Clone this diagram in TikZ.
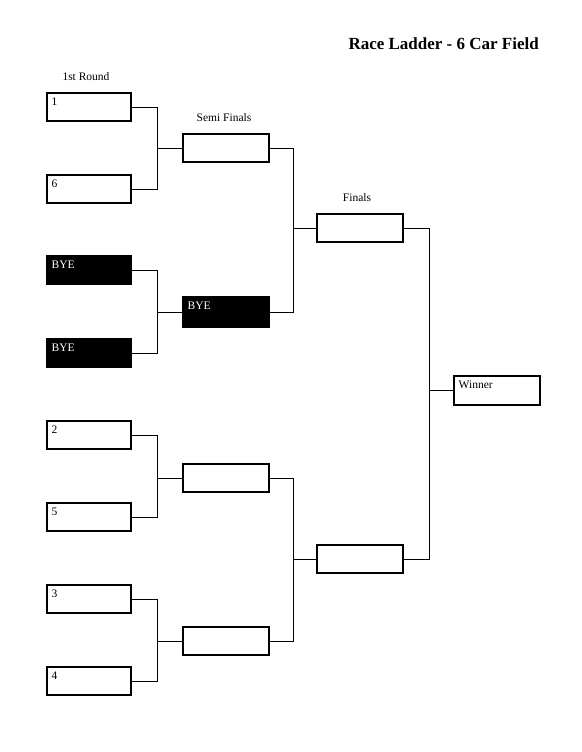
\documentclass[tikz,border=0pt]{standalone}
\usepackage{fontspec}
\setmainfont{Liberation Serif}
\begin{document}
\begin{tikzpicture}[x=1pt,y=-1pt,
  box/.style={draw=black,line width=2pt,minimum width=84pt,minimum height=28pt,inner sep=0pt},
  byebox/.style={box,fill=black},
  boxtxt/.style={anchor=north west,inner sep=0pt,xshift=5.5pt,yshift=-5.5pt,font=\fontsize{11.5}{13}\selectfont},
  head/.style={inner sep=0pt,font=\fontsize{11.5}{13}\selectfont},
  conn/.style={line width=1pt,line cap=rect}]
\useasboundingbox (0,0) rectangle (581,752);
% title
\node[anchor=base east,inner sep=0pt,font=\fontsize{17}{20}\selectfont\bfseries] (title) at (539,50) {Race Ladder - 6 Car Field};
% headings
\node[head] (h1) at (86,77) {1st Round};
\node[head] (h2) at (224,118) {Semi Finals};
\node[head] (h3) at (357,198) {Finals};
% first round
\node[box,label={[boxtxt]north west:1}] (r1) at (89,107) {};
\node[box,label={[boxtxt]north west:6}] (r2) at (89,189) {};
\node[byebox,label={[boxtxt,text=white]north west:BYE}] (r3) at (89,270) {};
\node[byebox,label={[boxtxt,text=white]north west:BYE}] (r4) at (89,353) {};
\node[box,label={[boxtxt]north west:2}] (r5) at (89,435) {};
\node[box,label={[boxtxt]north west:5}] (r6) at (89,517) {};
\node[box,label={[boxtxt]north west:3}] (r7) at (89,599) {};
\node[box,label={[boxtxt]north west:4}] (r8) at (89,681) {};
% semis
\node[box,minimum width=86pt] (s1) at (226,148) {};
\node[byebox,minimum width=86pt,minimum height=30pt,label={[boxtxt,text=white]north west:BYE}] (s2) at (226,312) {};
\node[box,minimum width=86pt] (s3) at (226,478) {};
\node[box,minimum width=86pt] (s4) at (226,641) {};
% finals
\node[box,minimum width=86pt] (f1) at (360,228) {};
\node[box,minimum width=86pt] (f2) at (360,559) {};
% winner
\node[box,minimum width=86pt,minimum height=29pt,label={[boxtxt]north west:Winner}] (w) at (497,390.5) {};
% junction columns
\coordinate (j1) at (157,0);
\coordinate (j2) at (293,0);
\coordinate (j3) at (429,0);
% connectors
\foreach \a/\b/\s in {r1/r2/s1,r3/r4/s2,r5/r6/s3,r7/r8/s4}{
  \draw[conn] (\a.east) -- (\a.east -| j1) -- (\b.east -| j1) -- (\b.east);
  \draw[conn] (\s.west) -- (\s.west -| j1);
}
\foreach \a/\b/\s in {s1/s2/f1,s3/s4/f2}{
  \draw[conn] (\a.east) -- (\a.east -| j2) -- (\b.east -| j2) -- (\b.east);
  \draw[conn] (\s.west) -- (\s.west -| j2);
}
\draw[conn] (f1.east) -- (f1.east -| j3) -- (f2.east -| j3) -- (f2.east);
\draw[conn] (w.west) -- (w.west -| j3);
\end{tikzpicture}
\end{document}
